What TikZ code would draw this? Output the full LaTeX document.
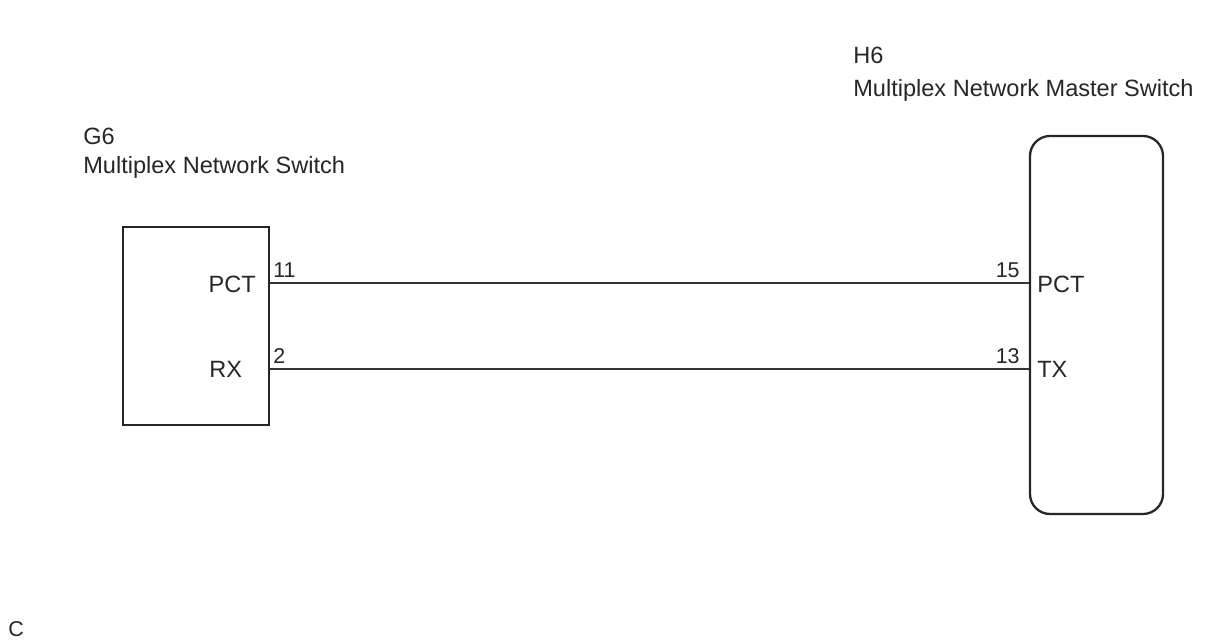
\documentclass[tikz,border=0pt]{standalone}
\usepackage{fontspec}
\setmainfont{Liberation Sans}
\tikzset{
	ecu/.style={draw=black!85, line width=1.3pt, minimum width=2.92cm, minimum height=3.96cm, inner sep=0pt},
	wire/.style={draw=black!80, line width=0.7pt},
	lbl/.style={inner sep=0pt, text=black!85, font=\fontsize{13.4}{15}\selectfont},
	pinno/.style={inner sep=0pt, text=black!85, font=\fontsize{12.2}{14}\selectfont}
}
\begin{document}
\begin{tikzpicture}
	\useasboundingbox (0, 0) rectangle (24.12, 12.84);
	% The two switches
	\node[ecu] (gsix) at (3.92, 6.32) {};
	\node[ecu, rounded corners=0.4cm, minimum width=2.66cm, minimum height=7.56cm] (hsix) at (21.93, 6.34) {};
	% Their titles
	\node[lbl, anchor=base west] (gname) at (1.66, 9.36) {Multiplex Network Switch};
	\node[lbl, anchor=base west] (gcode) at (1.66, 9.94) {G6};
	\node[lbl, anchor=base west] (hname) at (17.06, 10.9) {Multiplex Network Master Switch};
	\node[lbl, anchor=base west] (hcode) at (17.06, 11.56) {H6};
	% Terminals on the left box
	\node[lbl, anchor=base east] (gpct) at (5.12, 6.98) {PCT};
	\node[lbl, anchor=base west] (grx) at (4.18, 5.28) {RX};
	% Terminals on the right box
	\node[lbl, anchor=base west] (hpct) at (20.74, 6.98) {PCT};
	\node[lbl, anchor=base west] (htx) at (20.74, 5.28) {TX};
	% The wires
	\coordinate (gpctpin) at (gsix.east |- 0, 7.18);
	\coordinate (hpctpin) at (hsix.west |- 0, 7.18);
	\coordinate (grxpin) at (gsix.east |- 0, 5.46);
	\coordinate (htxpin) at (hsix.west |- 0, 5.46);
	\draw[wire] (gpctpin) -- (hpctpin);
	\draw[wire] (grxpin) -- (htxpin);
	% Pin numbers
	\node[pinno, anchor=base west] (gpinb) at (5.46, 7.28) {11};
	\node[pinno, anchor=base west] (gpina) at (5.46, 5.56) {2};
	\node[pinno, anchor=base east] (hpinb) at (20.4, 7.28) {15};
	\node[pinno, anchor=base east] (hpina) at (20.4, 5.56) {13};
	% Corner mark
	\node[pinno, anchor=base west] (mark) at (0.16, 0.1) {C};
\end{tikzpicture}
\end{document}
